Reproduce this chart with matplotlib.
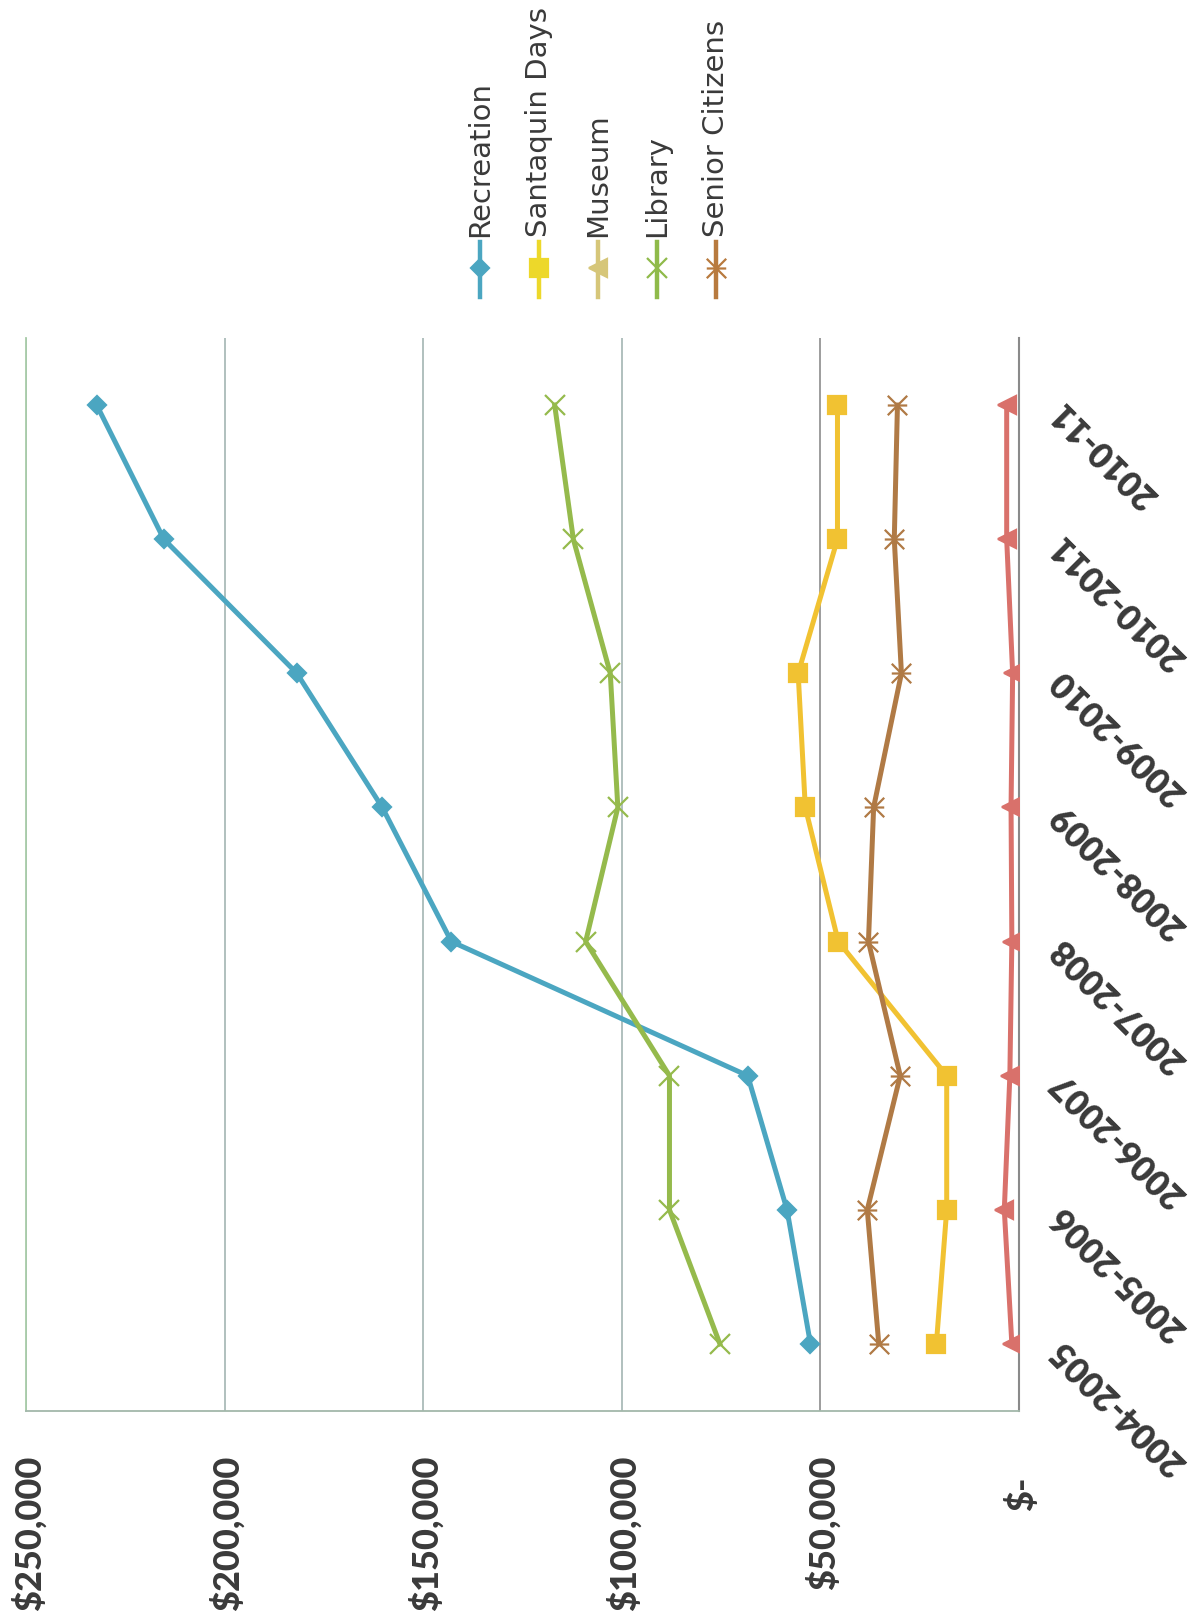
import matplotlib.pyplot as plt
from matplotlib.lines import Line2D
from matplotlib.path import Path
import numpy as np

# fiscal years (categories), drawn bottom to top
years = ["2004-2005", "2005-2006", "2006-2007", "2007-2008",
         "2008-2009", "2009-2010", "2010-2011", "2010-11"]

recreation = [52500, 58400, 68300, 142900, 160300, 181800, 215300, 232200]
santaquin_days = [20800, 18200, 18200, 45500, 53800, 55600, 45700, 45700]
museum = [1800, 3700, 2300, 1800, 2000, 1600, 3100, 3100]
library = [75300, 88000, 88000, 109100, 101000, 102900, 112200, 116900]
senior_citizens = [35300, 38200, 29900, 37900, 36600, 29600, 31400, 30600]

value_ticks = [0, 50000, 100000, 150000, 200000, 250000]
value_labels = ["$-", "$50,000", "$100,000", "$150,000", "$200,000", "$250,000"]

# excel style "star" marker: an x with a bar (bar is horizontal since chart is turned)
star = Path([(-1, -1), (1, 1), (-1, 1), (1, -1), (-1, 0), (1, 0)],
            [Path.MOVETO, Path.LINETO, Path.MOVETO, Path.LINETO,
             Path.MOVETO, Path.LINETO])

# name, values, line colour, legend colour, marker, marker size
series = [
    ("Recreation", recreation, "#4BA6C1", "#4BA6C1", "D", 9.5),
    ("Santaquin Days", santaquin_days, "#F1C232", "#EDD82A", "s", 13),
    ("Museum", museum, "#D9716B", "#D6C679", "<", 13),
    ("Library", library, "#95BA4C", "#8FBA4A", "x", 14),
    ("Senior Citizens", senior_citizens, "#B07A45", "#B87A3E", star, 14),
]

W, H = 1204, 1621
fig = plt.figure(figsize=(W / 100, H / 100), dpi=100)
fig.patch.set_facecolor("white")

# plot box in pixels: x 26..1019, y 338..1411 (from top)
ax = fig.add_axes([26 / W, (H - 1411) / H, (1019 - 26) / W, (1411 - 338) / H])

pos = np.arange(len(years))
for name, vals, col, lcol, mk, ms in series:
    ax.plot(vals, pos, color=col, lw=3.6, marker=mk, markersize=ms,
            markerfacecolor=col, markeredgecolor=col, markeredgewidth=1.6,
            solid_joinstyle="round", zorder=3)

ax.set_xlim(250000, 0)
ax.set_ylim(-0.5, len(years) - 0.5)
ax.set_xticks(value_ticks)
ax.set_yticks(pos)
ax.grid(axis="x", color="#A3B5B3", lw=1.2)
ax.grid(axis="y", visible=False)
ax.get_xgridlines()[1].set_color("#8C8C8C")
ax.tick_params(length=0, labelbottom=False, labelleft=False)
ax.spines["top"].set_visible(False)
ax.spines["left"].set_color("#A8CBA8")
ax.spines["left"].set_linewidth(1.3)
ax.spines["bottom"].set_color("#A2B8AA")
ax.spines["bottom"].set_linewidth(1.3)
ax.spines["right"].set_color("#8A8A8A")
ax.spines["right"].set_linewidth(1.5)

txt_col = "#3A3A3A"

# value axis labels (turned, under the plot)
for v, lab in zip(value_ticks, value_labels):
    dy = -47 if v == 0 else -32
    ax.annotate(lab, xy=(v, 0), xycoords=("data", "axes fraction"),
                xytext=(2, dy), textcoords="offset points",
                rotation=90, ha="center", va="top",
                fontsize=26, fontweight=900, family="Lato", color=txt_col)

# category labels (upside down diagonal, right of the plot)
for p, lab in zip(pos, years):
    ax.annotate(lab, xy=(1, p), xycoords=("axes fraction", "data"),
                xytext=(27, -1), textcoords="offset points",
                rotation=135, rotation_mode="anchor", ha="right", va="center",
                fontsize=25, fontweight=800, family="Lato", color=txt_col)

# legend, stacked left to right, turned
x0, step = 480, 59
for i, (name, vals, col, lcol, mk, ms) in enumerate(series):
    xf = (x0 + i * step) / W
    fig.add_artist(Line2D([xf, xf], [(H - 242) / H, (H - 297) / H],
                          transform=fig.transFigure, color=lcol, lw=3.2))
    fig.add_artist(Line2D([xf], [(H - 268) / H], transform=fig.transFigure,
                          color=lcol, marker=mk, markersize=ms,
                          markerfacecolor=lcol, markeredgecolor=lcol,
                          markeredgewidth=1.6, lw=0))
    fig.text(xf, (H - 237) / H, name, rotation=90, ha="center", va="bottom",
             fontsize=21, family="DejaVu Sans", color=txt_col)

fig.savefig("out.png", dpi=100)
